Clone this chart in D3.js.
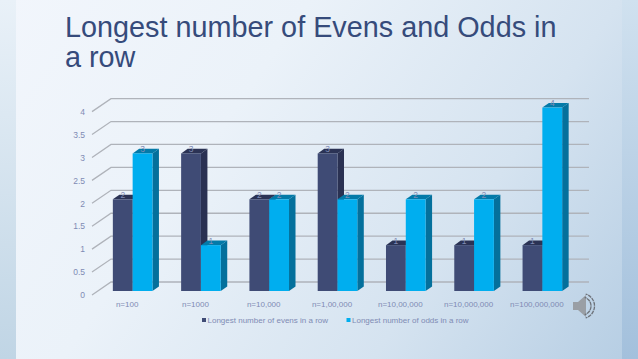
<!DOCTYPE html>
<html>
<head>
<meta charset="utf-8">
<style>
  html, body { margin: 0; padding: 0; background: #fff; }
  svg { display: block; }
  text { font-family: "Liberation Sans", Arial, sans-serif; }
</style>
<script src="https://cdn.jsdelivr.net/npm/d3@7"></script>
</head>
<body>
<div id="graph-goes-here"></div>
<script>
// Chart data
const titleLines = ["Longest number of Evens and Odds in", "a row"];
const categories = ["n=100", "n=1000", "n=10,000", "n=1,00,000", "n=10,00,000", "n=10,000,000", "n=100,000,000"];
const evens = [2, 3, 2, 3, 1, 1, 1];
const odds = [3, 1, 2, 2, 2, 2, 4];
const tickValues = [0, 0.5, 1, 1.5, 2, 2.5, 3, 3.5, 4];
const seriesNames = ["Longest number of evens in a row", "Longest number of odds in a row"];

const width = 638, height = 359;

// front wall of the 3D box, the back wall and bars are offset from it
const xscale = d3.scaleBand().domain(categories).range([93, 571]);
const yscale = d3.scaleLinear().domain([0, 4]).range([295, 111.6]);
const back = { x: 18, y: -13 };
const bar = { x: 5.5, y: -4, w: 19.8, dx: 6.5, dy: -4.6 };

const colors = [
    { front: "#3f4b75", top: "#2b3355", side: "#2a3152" },
    { front: "#00aeef", top: "#037aa8", side: "#04709c" }
];
const labelColor = "#7f8bb4";

const svg = d3.select("#graph-goes-here").append("svg")
    .attr("width", width)
    .attr("height", height);

// Slide background
const defs = svg.append("defs");
const grad = defs.append("linearGradient").attr("id", "bg")
    .attr("x1", "0").attr("y1", "0").attr("x2", "1.207").attr("y2", "0.469");
grad.append("stop").attr("offset", "0%").attr("stop-color", "#f2f6fc");
grad.append("stop").attr("offset", "35%").attr("stop-color", "#ebf2f9");
grad.append("stop").attr("offset", "70%").attr("stop-color", "#d5e3f0");
grad.append("stop").attr("offset", "100%").attr("stop-color", "#b5cde3");
const gradLeft = defs.append("linearGradient").attr("id", "bgLeft")
    .attr("x1", "0").attr("y1", "0").attr("x2", "0").attr("y2", "1");
gradLeft.append("stop").attr("offset", "0%").attr("stop-color", "#e9f1f8");
gradLeft.append("stop").attr("offset", "100%").attr("stop-color", "#c0d5e5");
const gradRight = defs.append("linearGradient").attr("id", "bgRight")
    .attr("x1", "0").attr("y1", "0").attr("x2", "0").attr("y2", "1");
gradRight.append("stop").attr("offset", "0%").attr("stop-color", "#d0e1ef");
gradRight.append("stop").attr("offset", "100%").attr("stop-color", "#a3c0dc");

svg.append("rect").attr("width", width).attr("height", height).attr("fill", "url(#bg)");
svg.append("rect").attr("width", 16).attr("height", height).attr("fill", "url(#bgLeft)");
svg.append("rect").attr("x", 622).attr("width", 16).attr("height", height).attr("fill", "url(#bgRight)");

// Title
svg.append("g").selectAll("text")
    .data(titleLines)
    .join("text")
    .attr("x", 65)
    .attr("y", (d, i) => 37 + i * 30)
    .attr("font-size", 28.8)
    .attr("fill", "#364b7b")
    .text(d => d);

// Gridlines with the slanted part on the side wall
const grid = svg.append("g").attr("fill", "none").attr("stroke", "#afb3ba").attr("stroke-width", 1.3);
grid.selectAll("path")
    .data(tickValues)
    .join("path")
    .attr("d", d => d3.line()([
        [xscale.range()[0] - 1, yscale(d)],
        [xscale.range()[0] + back.x, yscale(d) + back.y],
        [xscale.range()[1] + back.x, yscale(d) + back.y]
    ]));

// Value axis labels
const gy = svg.append("g")
    .attr("transform", "translate(88,0)")
    .call(d3.axisLeft(yscale).tickValues(tickValues).tickSize(0).tickFormat(d => d));
gy.select(".domain").remove();
gy.selectAll("text").attr("font-size", 8.5).attr("fill", labelColor).attr("font-family", "Liberation Sans");

// Category axis labels
const gx = svg.append("g")
    .attr("transform", "translate(0,298.5)")
    .call(d3.axisBottom(xscale).tickSize(0));
gx.select(".domain").remove();
gx.selectAll("text").attr("font-size", 8).attr("fill", labelColor).attr("font-family", "Liberation Sans");

// Bars, drawn category by category so the odd bar sits over the even bar's side
const barFront = (i, s) => xscale(categories[i]) + xscale.bandwidth() / 2 + bar.x + (s === 0 ? -bar.w : 0);
const barY = v => yscale(v) + bar.y;
const marks = [];
categories.forEach((c, i) => {
    [evens[i], odds[i]].forEach((v, s) => marks.push({ i, s, v }));
});
const bars = svg.append("g").selectAll("g")
    .data(marks)
    .join("g");
bars.append("path")
    .attr("fill", d => colors[d.s].side)
    .attr("d", d => {
        const x = barFront(d.i, d.s) + bar.w;
        return d3.line()([[x, barY(d.v)], [x + bar.dx, barY(d.v) + bar.dy], [x + bar.dx, barY(0) + bar.dy], [x, barY(0)]]) + "Z";
    });
bars.append("path")
    .attr("fill", d => colors[d.s].top)
    .attr("d", d => {
        const x = barFront(d.i, d.s);
        return d3.line()([[x, barY(d.v)], [x + bar.dx, barY(d.v) + bar.dy], [x + bar.w + bar.dx, barY(d.v) + bar.dy], [x + bar.w, barY(d.v)]]) + "Z";
    });
bars.append("rect")
    .attr("x", d => barFront(d.i, d.s))
    .attr("y", d => barY(d.v))
    .attr("width", bar.w)
    .attr("height", d => barY(0) - barY(d.v))
    .attr("fill", d => colors[d.s].front);

// Data labels
svg.append("g").selectAll("text")
    .data(marks)
    .join("text")
    .attr("x", d => barFront(d.i, d.s) + bar.w / 2)
    .attr("y", d => barY(d.v) - 1.5)
    .attr("text-anchor", "middle")
    .attr("font-size", 8.5)
    .attr("fill", labelColor)
    .text(d => d.v);

// Legend
const legendX = [202, 346.5];
const legend = svg.append("g").selectAll("g")
    .data(seriesNames)
    .join("g")
    .attr("transform", (d, i) => `translate(${legendX[i]},320)`);
legend.append("rect")
    .attr("y", -2)
    .attr("width", 4)
    .attr("height", 4)
    .attr("fill", (d, i) => colors[i].front);
legend.append("text")
    .attr("x", 5.5)
    .attr("y", 3)
    .attr("font-size", 8)
    .attr("fill", labelColor)
    .text(d => d);

// Speaker icon from the slide
const icon = svg.append("g").attr("transform", "translate(573,295)");
icon.append("path")
    .attr("d", "M0,7 H5 L13,0 V22 L5,15 H0 Z")
    .attr("fill", "#9a9fa5");
icon.append("g")
    .attr("stroke", "#6d7279")
    .attr("stroke-width", 1.3)
    .attr("stroke-dasharray", "2,2.5")
    .attr("fill", "none")
    .selectAll("path")
    .data([9, 12.5])
    .join("path")
    .attr("d", r => d3.arc()({ innerRadius: r, outerRadius: r, startAngle: 0.3, endAngle: Math.PI - 0.3 }))
    .attr("transform", "translate(9,11)");
</script>
</body>
</html>
